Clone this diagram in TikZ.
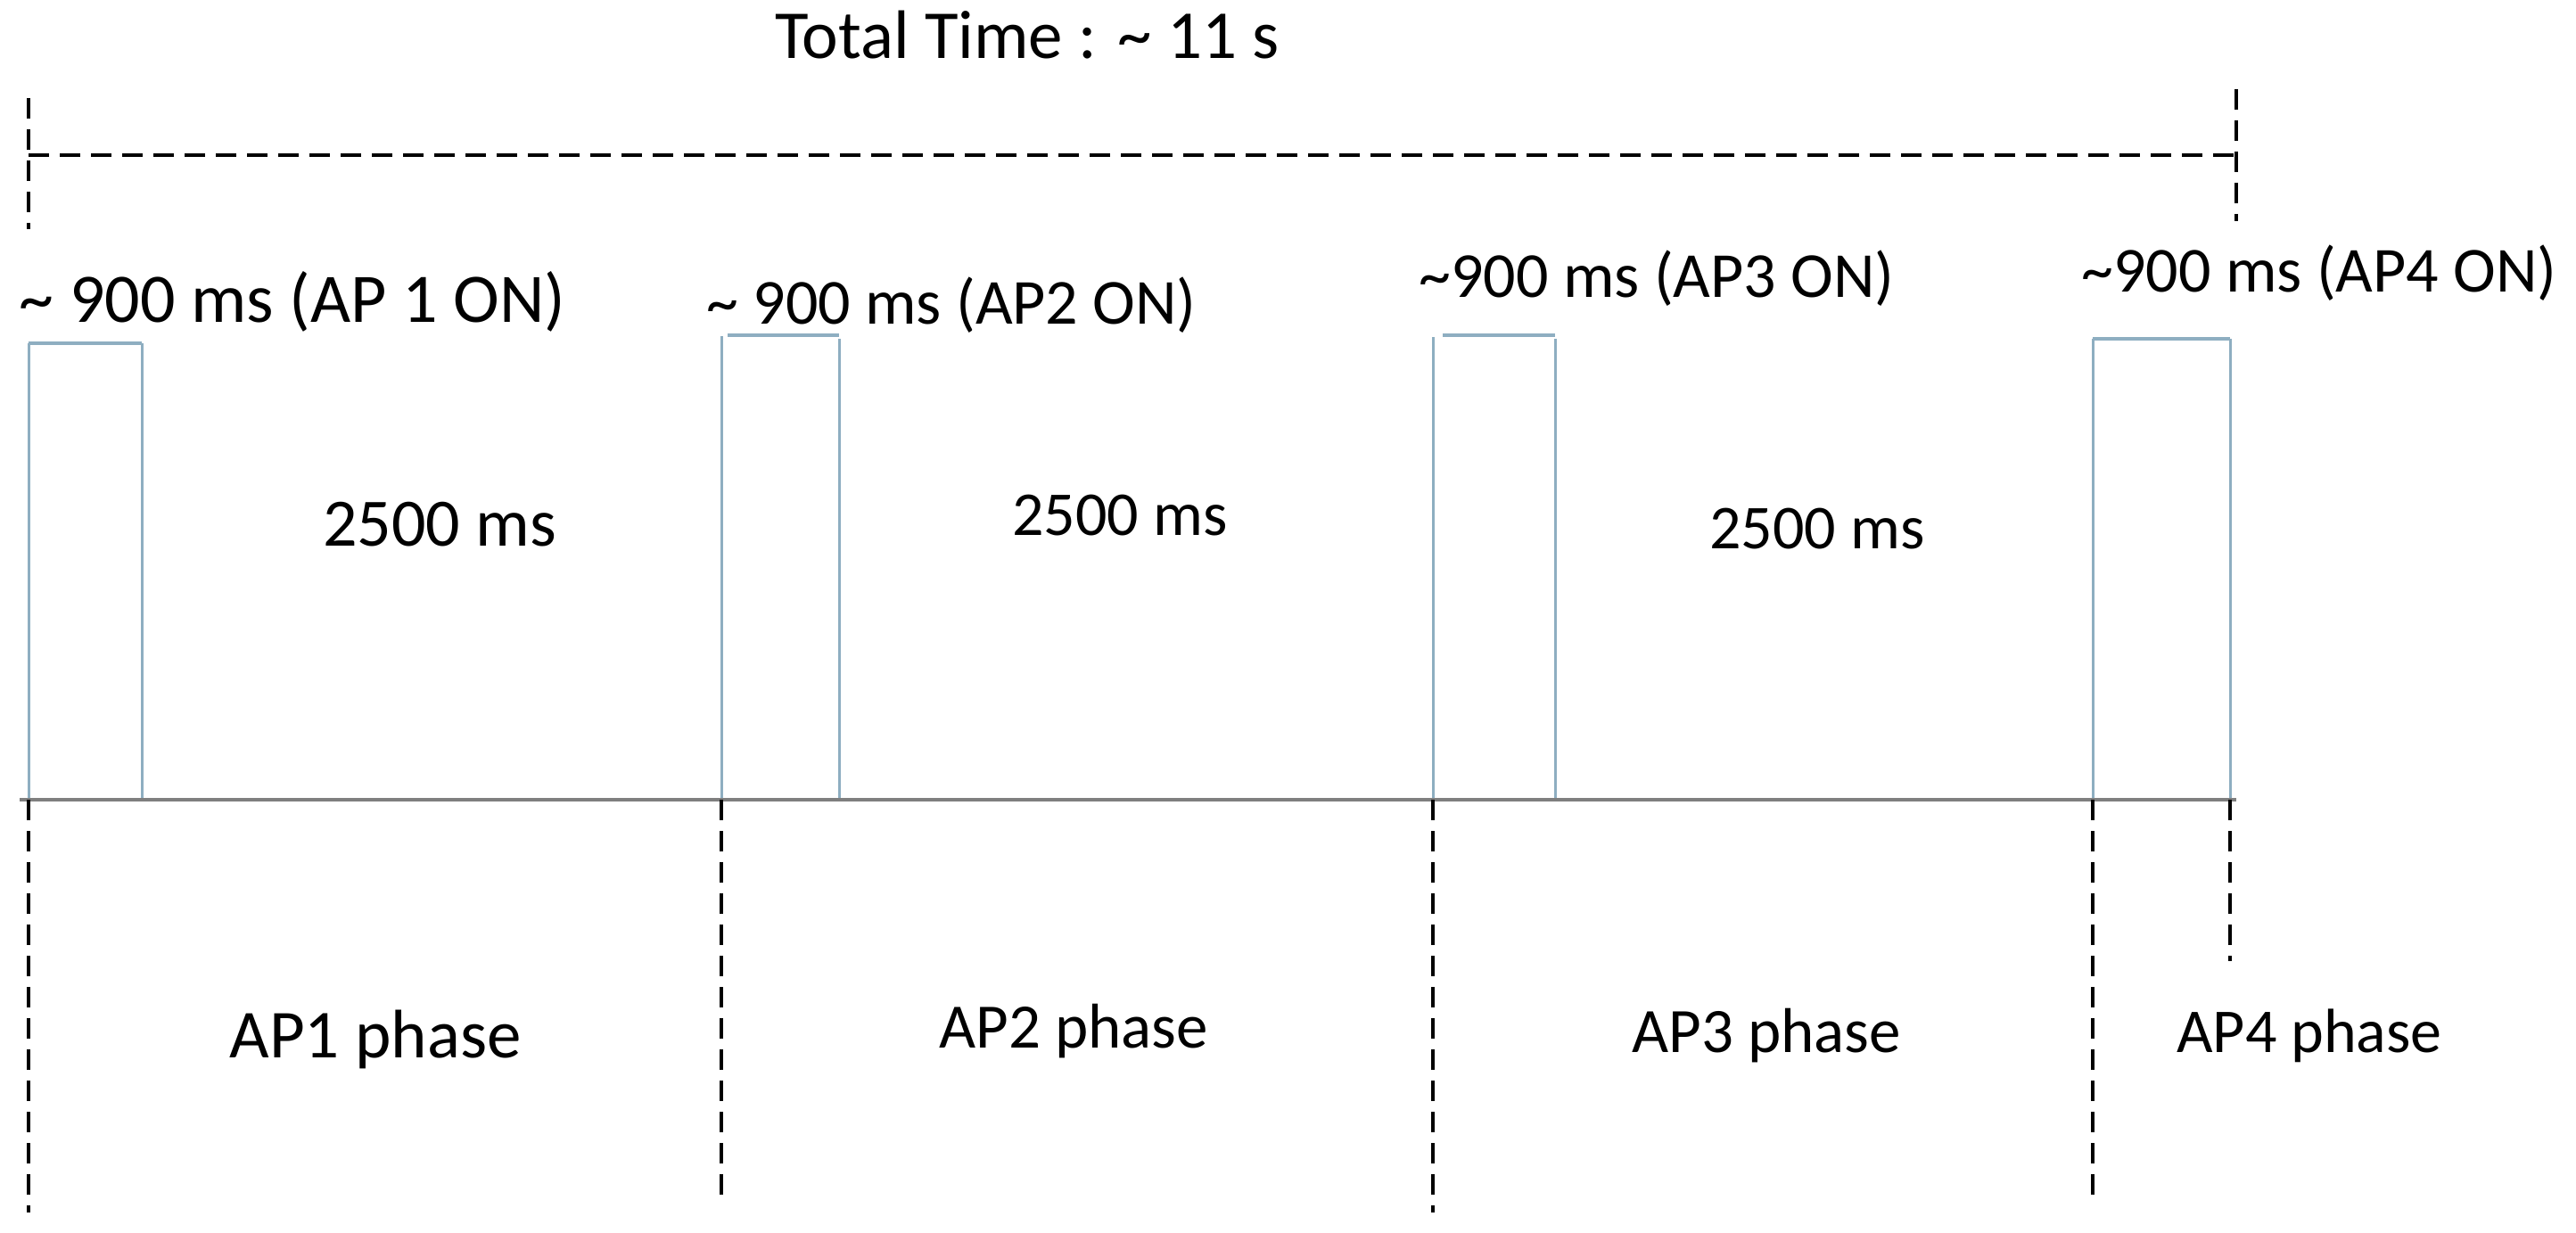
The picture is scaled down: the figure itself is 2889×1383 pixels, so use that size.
\documentclass[tikz,border=0pt]{standalone}
\usepackage{fontspec}
\setmainfont{Carlito}
\definecolor{pulse}{HTML}{8EAEC1}
\definecolor{axisgray}{HTML}{7F7F7F}
\tikzset{
  lbl/.style={inner sep=0pt, anchor=base, text=black},
  bracket/.style={draw=black, line width=3.5pt, dash pattern=on 23pt off 12pt},
  pulseline/.style={draw=pulse, line width=3pt},
  pulsetop/.style={draw=pulse, line width=4pt},
  axisline/.style={draw=axisgray, line width=4.5pt},
}
\newcommand{\fs}[1]{\fontsize{#1}{#1}\selectfont}
\begin{document}
\begin{tikzpicture}[x=1pt,y=-1pt]
\useasboundingbox (0,0) rectangle (2889,1383);
% title
\node[lbl, font=\fs{77}] (title) at (1152,66) {Total Time : \textasciitilde{} 11 s};
% top bracket
\coordinate (tlT) at (32,110); \coordinate (tlB) at (32,257);
\coordinate (trT) at (2508,100); \coordinate (trB) at (2508,248);
\coordinate (hL) at (32,174); \coordinate (hR) at (2508,174);
\draw[bracket] (tlT) -- (tlB);
\draw[bracket] (trT) -- (trB);
\draw[bracket] (hL) -- (hR);
% pulse labels
\node[lbl, font=\fs{78}] (on1) at (328,361) {\textasciitilde{} 900 ms (AP 1 ON)};
\node[lbl, font=\fs{72}] (on2) at (1067,363) {\textasciitilde{} 900 ms (AP2 ON)};
\node[lbl, font=\fs{72}] (on3) at (1858,333) {\textasciitilde900 ms (AP3 ON)};
\node[lbl, font=\fs{72}] (on4) at (2601,327) {\textasciitilde900 ms (AP4 ON)};
% duration labels
\node[lbl, font=\fs{76}] (d1) at (493,612) {2500 ms};
\node[lbl, font=\fs{70}] (d2) at (1256,600) {2500 ms};
\node[lbl, font=\fs{70}] (d3) at (2038,615) {2500 ms};
% phase labels
\node[lbl, font=\fs{77}] (ph1) at (421,1186) {AP1 phase};
\node[lbl, font=\fs{71}] (ph2) at (1204,1175) {AP2 phase};
\node[lbl, font=\fs{71}] (ph3) at (1981,1180) {AP3 phase};
\node[lbl, font=\fs{70}] (ph4) at (2590,1180) {AP4 phase};
% axis coordinates
\coordinate (axL) at (22,897); \coordinate (axR) at (2508,897);
% pulse 1
\coordinate (p1a) at (32,897); \coordinate (p1b) at (32,385);
\coordinate (p1c) at (159,385); \coordinate (p1d) at (159,897);
\draw[pulseline] (p1a) -- (p1b);
\draw[pulseline] (p1c) -- (p1d);
\draw[pulsetop] (p1b) -- (p1c);
% pulse 2
\coordinate (p2a) at (809,897); \coordinate (p2b) at (809,377);
\coordinate (p2t1) at (816,376); \coordinate (p2t2) at (941,376);
\coordinate (p2c) at (941,380); \coordinate (p2d) at (941,897);
\draw[pulseline] (p2a) -- (p2b);
\draw[pulsetop] (p2t1) -- (p2t2);
\draw[pulseline] (p2c) -- (p2d);
% pulse 3
\coordinate (p3a) at (1607,897); \coordinate (p3b) at (1607,378);
\coordinate (p3t1) at (1618,376); \coordinate (p3t2) at (1744,376);
\coordinate (p3c) at (1744,380); \coordinate (p3d) at (1744,897);
\draw[pulseline] (p3a) -- (p3b);
\draw[pulsetop] (p3t1) -- (p3t2);
\draw[pulseline] (p3c) -- (p3d);
% pulse 4
\coordinate (p4a) at (2347,897); \coordinate (p4b) at (2347,380);
\coordinate (p4c) at (2501,380); \coordinate (p4d) at (2501,897);
\draw[pulseline] (p4a) -- (p4b);
\draw[pulseline] (p4c) -- (p4d);
\draw[pulsetop] (p4b) -- (p4c);
% axis
\draw[axisline] (axL) -- (axR);
% lower dashed phase dividers
\coordinate (v1) at (32,1360);
\coordinate (v2) at (809,1348);
\coordinate (v3) at (1607,1360);
\coordinate (v4) at (2347,1352);
\coordinate (v5) at (2501,1078);
\draw[bracket] (p1a) -- (v1);
\draw[bracket] (p2a) -- (v2);
\draw[bracket] (p3a) -- (v3);
\draw[bracket] (p4a) -- (v4);
\draw[bracket] (p4d) -- (v5);
\end{tikzpicture}
\end{document}
